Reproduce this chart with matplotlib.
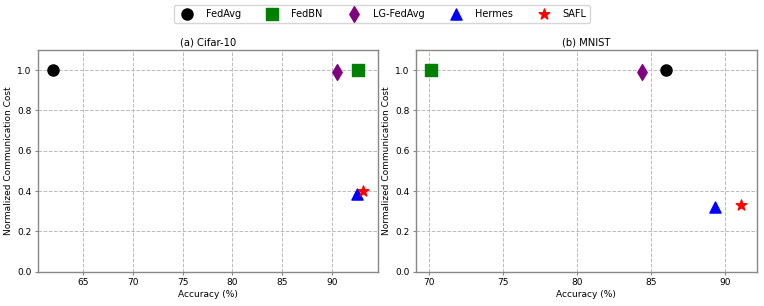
import matplotlib.pyplot as plt

methods = ['FedAvg', 'FedBN', 'LG-FedAvg', 'Hermes', 'SAFL']
markers = ['o', 's', 'd', '^', '*']
colors = ['black', 'green', 'purple', 'blue', 'red']

# Cifar-10
cifar_acc = [62.0, 92.6, 90.5, 92.5, 93.1]
cifar_cost = [1.0, 1.0, 0.99, 0.385, 0.40]

# MNIST
mnist_acc = [86.0, 70.16, 84.4, 89.35, 91.1]
mnist_cost = [1.0, 1.0, 0.99, 0.32, 0.33]

fig = plt.figure(figsize=(7.64, 3.06), dpi=100)
ax1 = fig.add_axes([38 / 764, 34.3 / 306, 340 / 764, 221.7 / 306])
ax2 = fig.add_axes([415.7 / 764, 34.3 / 306, 341 / 764, 221.7 / 306])

for ax, acc, cost, title in [(ax1, cifar_acc, cifar_cost, '(a) Cifar-10'),
                             (ax2, mnist_acc, mnist_cost, '(b) MNIST')]:
    for i in range(len(methods)):
        ax.scatter(acc[i], cost[i], marker=markers[i], color=colors[i], s=64,
                   label=methods[i], zorder=3)
    ax.set_ylim(0, 1.1)
    ax.set_title(title, fontsize=7.2, pad=3)
    ax.set_xlabel('Accuracy (%)', fontsize=6.5, labelpad=2)
    ax.set_ylabel('Normalized Communication Cost', fontsize=6.5, labelpad=3)
    ax.tick_params(labelsize=6.5, length=2.5, pad=2, color='#888888')
    ax.grid(True, linestyle='--', color='#bbbbbb', linewidth=0.7)
    for spine in ax.spines.values():
        spine.set_color('#888888')
        spine.set_linewidth(1.0)

handles, labels = ax1.get_legend_handles_labels()
fig.legend(handles, labels, loc='upper center', ncol=5, fontsize=7,
           bbox_to_anchor=(0.5, 1.0), frameon=True, columnspacing=2.2,
           handletextpad=0.95, borderpad=0.4)

fig.savefig('out.png', dpi=100)
